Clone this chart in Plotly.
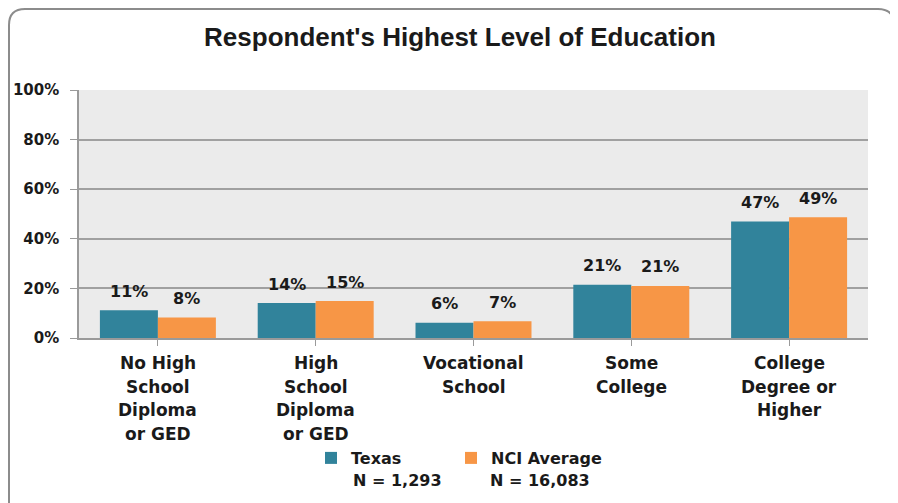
import plotly.graph_objects as go

categories = ["No High\nSchool\nDiploma\nor GED", "High\nSchool\nDiploma\nor GED",
              "Vocational\nSchool", "Some\nCollege", "College\nDegree or\nHigher"]
texas = [11.2, 14.1, 6.1, 21.5, 47.0]
nci = [8.3, 14.9, 6.8, 21.0, 48.7]
texas_labels = ["11%", "14%", "6%", "21%", "47%"]
nci_labels = ["8%", "15%", "7%", "21%", "49%"]
series_names = ["Texas", "NCI Average"]
series_n = ["N = 1,293", "N = 16,083"]
y_ticks = [0, 20, 40, 60, 80, 100]
title = "Respondent's Highest Level of Education"

OFF = 8  # page body margin
W, H = 898 - OFF, 503 - OFF
L, R, T, B = 79, 868, 90, 338  # plot area in page px
TEAL = "#31839B"
ORANGE = "#F79646"
FONT = "DejaVu Sans"
TXT = "#1a1a1a"

def px(x):
    return (x - L) / (R - L)

def py(y):
    return (B - y) / (B - T)

x_idx = list(range(len(categories)))

fig = go.Figure()
fig.add_trace(go.Bar(x=x_idx, y=texas, name="<b>" + series_names[0] + "</b>",
                     marker_color=TEAL, marker_line_width=0, legend="legend"))
fig.add_trace(go.Bar(x=x_idx, y=nci, name="<b>" + series_names[1] + "</b>",
                     marker_color=ORANGE, marker_line_width=0, legend="legend2"))

ann = []
for i in x_idx:
    for vals, labs, sh in ((texas, texas_labels, -29), (nci, nci_labels, 29)):
        ann.append(dict(x=i, y=vals[i], xref="x", yref="y", text="<b>" + labs[i] + "</b>",
                        showarrow=False, xshift=sh, yshift=19,
                        font=dict(family=FONT, size=16, color=TXT),
                        xanchor="center", yanchor="middle"))
for i, c in enumerate(categories):
    for j, line in enumerate(c.split("\n")):
        ann.append(dict(x=i, y=0, xref="x", yref="paper", text="<b>" + line + "</b>",
                        showarrow=False, yshift=-(25 + 23.5 * j), xanchor="center",
                        yanchor="middle", font=dict(family=FONT, size=17, color=TXT)))
for xc, t in zip((397, 540), series_n):
    ann.append(dict(x=px(xc), y=py(480), xref="paper", yref="paper", text="<b>" + t + "</b>",
                    showarrow=False, xanchor="center", yanchor="middle",
                    font=dict(family=FONT, size=16, color=TXT)))

l0, t0, r0, b0, rad = 9, 9, 894, 520, 16
path = (f"M {px(l0)},{py(b0)} L {px(l0)},{py(t0 + rad)} "
        f"Q {px(l0)},{py(t0)} {px(l0 + rad)},{py(t0)} "
        f"L {px(r0 - rad)},{py(t0)} Q {px(r0)},{py(t0)} {px(r0)},{py(t0 + rad)} "
        f"L {px(r0)},{py(b0)}")

legend_common = dict(orientation="h", xanchor="left", yanchor="top",
                     font=dict(family=FONT, size=16, color=TXT),
                     itemwidth=30, bgcolor="rgba(0,0,0,0)")

fig.update_layout(
    width=W, height=H,
    margin=dict(l=L - OFF, r=W - (R - OFF), t=T - OFF, b=H - (B - OFF), autoexpand=False),
    paper_bgcolor="white", plot_bgcolor="#EBEBEB",
    barmode="group", bargap=0.265, bargroupgap=0,
    title=dict(text="<b>" + title + "</b>", x=(460 - OFF) / W, xanchor="center",
               y=1 - (37 - OFF) / H, yanchor="middle",
               font=dict(family="Liberation Sans", size=26, color=TXT)),
    font=dict(family=FONT, color=TXT),
    showlegend=True,
    legend=dict(x=px(311), y=py(441), **legend_common),
    legend2=dict(x=px(451), y=py(441), **legend_common),
    annotations=ann,
    shapes=[dict(type="path", xref="paper", yref="paper", path=path,
                 line=dict(color="#8C8C8C", width=2), layer="above")],
)
fig.update_xaxes(range=[-0.5, len(categories) - 0.5], tickvals=x_idx,
                 ticktext=[""] * len(categories),
                 showgrid=False, showline=True, linecolor="#9A9A9A", linewidth=1.5,
                 ticks="outside", tickson="boundaries", ticklen=6, tickcolor="#9A9A9A",
                 zeroline=False, fixedrange=True)
fig.update_yaxes(range=[0, 100], tickvals=y_ticks, ticktext=[f"<b>{v}%</b>" for v in y_ticks],
                 showgrid=True, gridcolor="#A0A0A0", gridwidth=1.5,
                 showline=True, linecolor="#9A9A9A", linewidth=1.5,
                 ticks="outside", ticklen=7, tickcolor="#9A9A9A", zeroline=False,
                 ticklabelstandoff=8,
                 tickfont=dict(family=FONT, size=15, color=TXT), fixedrange=True)

fig.write_html("out.html")
